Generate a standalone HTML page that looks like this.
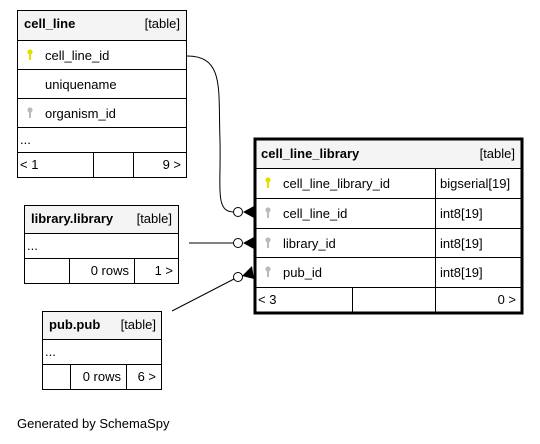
<!DOCTYPE html>
<html><head><style>body{margin:0;background:#fff}svg{display:block}text{font-family:"Liberation Sans",Arial,sans-serif;font-size:13px;fill:#000}</style></head><body>
<svg width="540" height="444" xmlns="http://www.w3.org/2000/svg">
<defs>
<g id="ky"><circle cx="0" cy="0" r="2.6" fill="#e0e000"/><rect x="-1" y="0" width="2" height="8" fill="#e0e000"/></g>
<g id="kg"><circle cx="0" cy="0" r="2.6" fill="#bbb"/><rect x="-1" y="0" width="2" height="8" fill="#bbb"/></g>
</defs>
<!-- cell_line -->
<rect x="17.5" y="10.5" width="169" height="30" fill="#f4f4f4"/>
<g fill="none" stroke="#000">
<rect x="17.5" y="10.5" width="169" height="167"/>
<path d="M17 40.5H187M17 69.5H187M17 98.5H187M17 127.5H187M17 152.5H187M93.5 152V177M133.5 152V177"/>
</g>
<text x="24" y="28" font-weight="bold">cell_line</text><text x="180" y="28" text-anchor="end">[table]</text>
<use href="#ky" x="30" y="52"/><text x="45" y="60">cell_line_id</text>
<text x="45" y="89">uniquename</text>
<use href="#kg" x="30" y="110"/><text x="45" y="118">organism_id</text>
<text x="20" y="144">...</text>
<text x="20" y="169">&lt; 1</text><text x="181" y="169" text-anchor="end">9 &gt;</text>
<!-- library -->
<rect x="24.5" y="205.5" width="154" height="28" fill="#f4f4f4"/>
<g fill="none" stroke="#000">
<rect x="24.5" y="205.5" width="154" height="78"/>
<path d="M24 233.5H179M24 258.5H179M69.5 258V283M134.5 258V283"/>
</g>
<text x="31" y="223" font-weight="bold">library.library</text><text x="172" y="223" text-anchor="end">[table]</text>
<text x="27" y="250">...</text>
<text x="129" y="275" text-anchor="end">0 rows</text><text x="173" y="275" text-anchor="end">1 &gt;</text>
<!-- pub -->
<rect x="42.5" y="311.5" width="119" height="28" fill="#f4f4f4"/>
<g fill="none" stroke="#000">
<rect x="42.5" y="311.5" width="119" height="78"/>
<path d="M42 339.5H162M42 364.5H162M70.5 364V389M126.5 364V389"/>
</g>
<text x="49" y="329" font-weight="bold">pub.pub</text><text x="156" y="329" text-anchor="end">[table]</text>
<text x="45" y="356">...</text>
<text x="121" y="381" text-anchor="end">0 rows</text><text x="156" y="381" text-anchor="end">6 &gt;</text>
<!-- cell_line_library -->
<rect x="255" y="139" width="267" height="29" fill="#f4f4f4"/>
<g fill="none" stroke="#000">
<path d="M254 168.5H522M254 198.5H522M254 228.5H522M254 257.5H522M254 287.5H522M435.5 168V287M352.5 287V313M435.5 287V313"/>
<rect x="255" y="139" width="267" height="174" stroke-width="3"/>
</g>
<text x="261" y="158" font-weight="bold">cell_line_library</text><text x="515" y="158" text-anchor="end">[table]</text>
<use href="#ky" x="268" y="180"/><text x="283" y="188">cell_line_library_id</text><text x="440" y="188">bigserial[19]</text>
<use href="#kg" x="268" y="210"/><text x="283" y="218">cell_line_id</text><text x="440" y="218">int8[19]</text>
<use href="#kg" x="268" y="240"/><text x="283" y="248">library_id</text><text x="440" y="248">int8[19]</text>
<use href="#kg" x="268" y="269"/><text x="283" y="277">pub_id</text><text x="440" y="277">int8[19]</text>
<text x="258" y="304">&lt; 3</text><text x="516" y="304" text-anchor="end">0 &gt;</text>
<!-- connectors -->
<g fill="none" stroke="#000">
<path d="M187 56C225 56 218 90 220 140C221 190 215 212 234 212"/>
<path d="M189 243H234"/>
<path d="M172 311L234 279"/>
<circle cx="238" cy="212" r="4.5" fill="#fff"/>
<circle cx="238" cy="243" r="4.5" fill="#fff"/>
<circle cx="238" cy="277" r="4.5" fill="#fff"/>
</g>
<g fill="#000">
<path d="M243 212L254 206V218Z"/>
<path d="M243 243L254 237V249Z"/>
<path d="M242 276L252 266L254 279Z"/>
</g>
<text x="17" y="428">Generated by SchemaSpy</text>
</svg>
</body></html>
